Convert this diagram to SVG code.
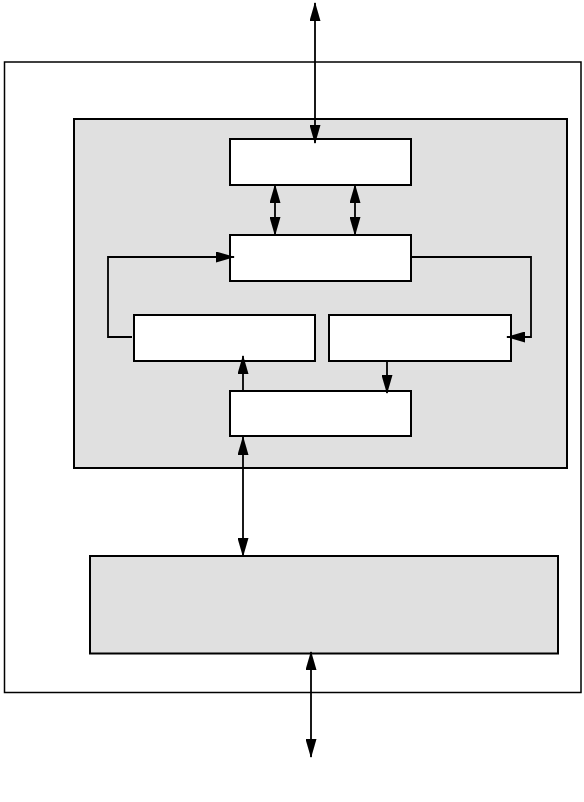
<svg xmlns="http://www.w3.org/2000/svg" width="584" height="802" viewBox="0 0 584 802">
<defs>
<style>
.frame{fill:#fff;stroke:#000;stroke-width:1.5}
.panel{fill:#e0e0e0;stroke:#000;stroke-width:2}
.box{fill:#fff;stroke:#000;stroke-width:2}
.conn{fill:none;stroke:#000;stroke-width:1.8}
</style>
<marker id="ah" markerUnits="userSpaceOnUse" markerWidth="20" markerHeight="11" refX="18" refY="5.5" orient="auto-start-reverse" viewBox="0 0 20 11">
<path d="M0,0 L19,5.5 L0,11 z" fill="#000"/>
</marker>
</defs>
<rect width="584" height="802" fill="#fff"/>
<g id="outer"><rect class="frame" x="4.5" y="62" width="576.5" height="630.5"/></g>
<g id="panel"><rect class="panel" x="74" y="119" width="493" height="349"/></g>
<g id="bottom"><rect class="panel" x="90" y="556" width="468" height="97.5"/></g>
<g id="box1"><rect class="box" x="230" y="139" width="181" height="46"/></g>
<g id="box2"><rect class="box" x="230" y="235" width="181" height="46"/></g>
<g id="box3"><rect class="box" x="134" y="315" width="181" height="46"/></g>
<g id="box4"><rect class="box" x="329" y="315" width="182" height="46"/></g>
<g id="box5"><rect class="box" x="230" y="391" width="181" height="45"/></g>
<g id="connectors" class="conn">
<line x1="315" y1="3" x2="315" y2="143" marker-start="url(#ah)" marker-end="url(#ah)"/>
<line x1="275" y1="185" x2="275" y2="235" marker-start="url(#ah)" marker-end="url(#ah)"/>
<line x1="355" y1="185" x2="355" y2="235" marker-start="url(#ah)" marker-end="url(#ah)"/>
<polyline points="132,337 108,337 108,257 234,257" marker-end="url(#ah)"/>
<polyline points="410,257 531,257 531,337 507,337" marker-end="url(#ah)"/>
<line x1="387" y1="361" x2="387" y2="393" marker-end="url(#ah)"/>
<line x1="243" y1="391" x2="243" y2="356" marker-end="url(#ah)"/>
<line x1="243" y1="437" x2="243" y2="556" marker-start="url(#ah)" marker-end="url(#ah)"/>
<line x1="311" y1="652" x2="311" y2="757" marker-start="url(#ah)" marker-end="url(#ah)"/>
</g>
</svg>
